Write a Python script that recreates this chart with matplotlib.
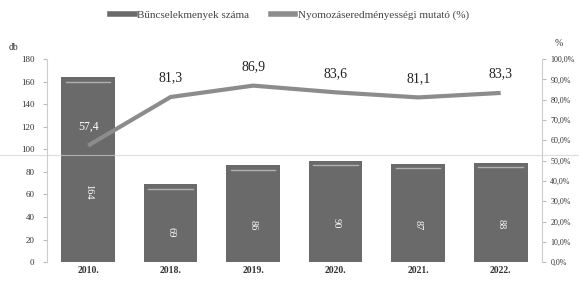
import matplotlib
matplotlib.use("Agg")
import matplotlib.pyplot as plt
from matplotlib.lines import Line2D
import numpy as np

years = ["2010.", "2018.", "2019.", "2020.", "2021.", "2022."]
crimes = [164, 69, 86, 90, 87, 88]
rate = [57.4, 81.3, 86.9, 83.6, 81.1, 83.3]
rate_labels = ["57,4", "81,3", "86,9", "83,6", "81,1", "83,3"]
left_ticks = [0, 20, 40, 60, 80, 100, 120, 140, 160, 180]
right_ticks = [0, 10, 20, 30, 40, 50, 60, 70, 80, 90, 100]

serif = ["Liberation Serif", "DejaVu Serif"]
plt.rcParams["font.family"] = serif

bar_color = "#6a6a6a"
line_color = "#8c8c8c"
text_color = "#333333"

fig = plt.figure(figsize=(5.79, 2.81), dpi=100)
ax = fig.add_axes([0.081, 0.067, 0.855, 0.723])
ax2 = ax.twinx()

x = np.arange(len(years))
ax.bar(x, crimes, width=0.65, color=bar_color, zorder=2)
# light stripe near bar top (scan look)
for xi, v in zip(x, crimes):
    ax.plot([xi - 0.27, xi + 0.27], [v - 4, v - 4], color="#b0b0b0", lw=1.0, zorder=3)
    ax.text(xi, v * 0.38, str(v), rotation=270, ha="center", va="center",
            color="white", fontsize=7.5, zorder=4)

ax.set_xlim(-0.5, len(years) - 0.5)
ax.set_ylim(0, 180)
ax.set_yticks(left_ticks)
ax.set_yticklabels([str(t) for t in left_ticks], fontsize=6.5, color=text_color)
ax.set_xticks(x)
ax.set_xticklabels(years, fontsize=7, fontweight="bold", color=text_color)
ax.tick_params(axis="x", length=0, pad=3)
ax.tick_params(axis="y", length=3, color="#bbbbbb", pad=6)

ax2.plot(x, rate, color=line_color, lw=3.0, zorder=5, solid_capstyle="butt")
ax2.set_ylim(0, 100)
ax2.set_yticks(right_ticks)
ax2.set_yticklabels([f"{t},0%" for t in right_ticks], fontsize=5.8, color=text_color)
ax2.tick_params(axis="y", length=3, color="#bbbbbb", pad=3)
for i, (xi, v, lab) in enumerate(zip(x, rate, rate_labels)):
    col = "white" if i == 0 else "#222222"
    fs = 8.5 if i == 0 else 10
    ax2.annotate(lab, (xi, v), xytext=(0, 9), textcoords="offset points",
                 ha="center", va="bottom", fontsize=fs, color=col, zorder=6)

for a in (ax, ax2):
    a.spines["top"].set_visible(False)
    a.spines["bottom"].set_visible(False)
ax.spines["right"].set_visible(False)
ax.spines["left"].set_color("#cccccc")
ax.spines["left"].set_linestyle((0, (2, 1)))
ax2.spines["left"].set_visible(False)
ax2.spines["right"].set_color("#cccccc")
ax2.spines["right"].set_linestyle((0, (2, 1)))

fig.text(0.015, 0.815, "db", fontsize=7, color=text_color, ha="left", va="bottom")
fig.text(0.965, 0.83, "%", fontsize=7, color=text_color, ha="center", va="bottom")

handles = [Line2D([0], [0], color=bar_color, lw=4),
           Line2D([0], [0], color=line_color, lw=4)]
fig.legend(handles, ["Bűncselekmenyek száma", "Nyomozáseredményességi mutató (%)"],
           loc="upper center", bbox_to_anchor=(0.5, 1.0), ncol=2, frameon=False,
           fontsize=8, handlelength=2.2, handletextpad=0.2, columnspacing=2.0,
           labelcolor="#444444")

# faint scan fold line across the page
fig.add_artist(Line2D([0, 1], [0.448, 0.448], transform=fig.transFigure,
                      color="#cfcfcf", lw=0.8, alpha=0.7, zorder=10))

fig.savefig("out.png", dpi=100, facecolor="white")
